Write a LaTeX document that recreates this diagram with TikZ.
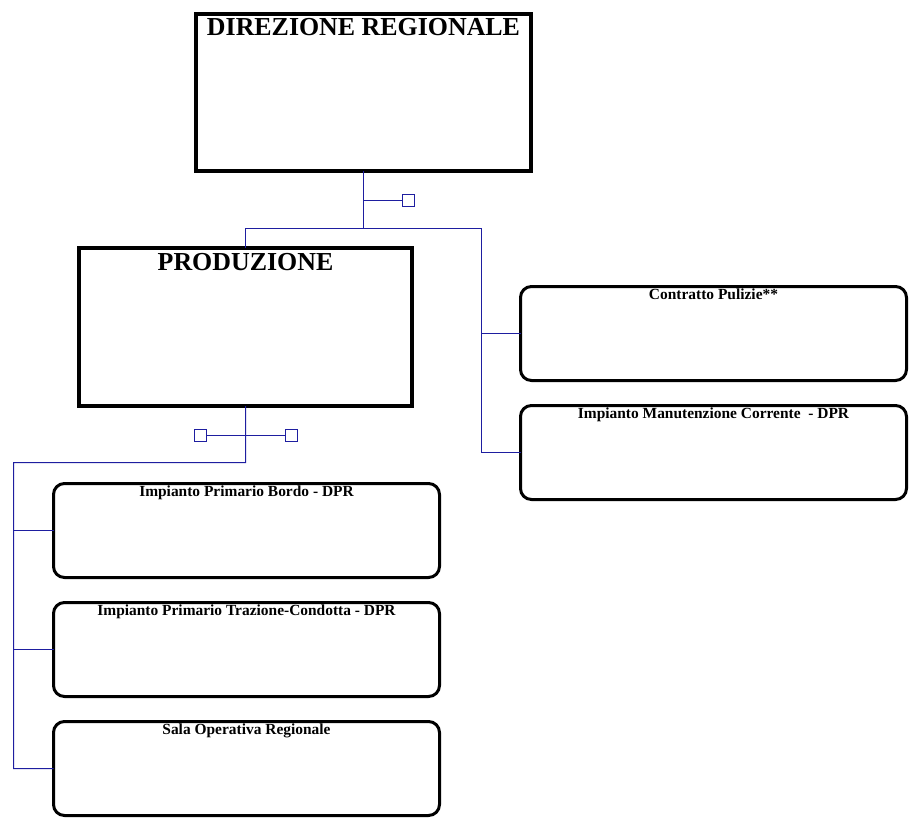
\documentclass[tikz,border=0pt]{standalone}
\usepackage{fontspec}
\setmainfont{Liberation Serif}
\usetikzlibrary{positioning}
\definecolor{navy}{RGB}{30,30,160}

\begin{document}
\begin{tikzpicture}[x=1bp, y=-1bp,
      head/.style={draw, line width=4bp, anchor=north west, inner sep=0pt, outer sep=0pt},
      unit/.style={draw, line width=3bp, rounded corners=11bp, anchor=north west,
                   inner sep=0pt, outer sep=0pt, minimum width=386bp, minimum height=94bp},
      headtext/.style={anchor=north, inner sep=0pt, font=\bfseries\fontsize{26}{26}\selectfont},
      unittext/.style={anchor=north, inner sep=0pt, yshift=-2.5bp, font=\bfseries\fontsize{15.5}{15.5}\selectfont},
      link/.style={draw=navy, line width=1bp},
      knob/.style={draw=navy, line width=1bp, fill=white, minimum size=12bp, inner sep=0pt}]
      \useasboundingbox (0,0) rectangle (912,826);

      \node[head, minimum width=335bp, minimum height=157bp,
            label={[headtext, yshift=-4bp]north:DIREZIONE REGIONALE}] (dir) at (196,14) {};
      \node[head, minimum width=333bp, minimum height=158bp,
            label={[headtext, yshift=-5bp]north:PRODUZIONE}] (prod) at (79,248) {};

      \node[unit, label={[unittext]north:Contratto Pulizie**}] (puliz) at (520.5,286.5) {};
      \node[unit, label={[unittext]north:Impianto Manutenzione Corrente~~- DPR}] (manut) at (520.5,405.5) {};
      \node[unit, label={[unittext]north:Impianto Primario Bordo - DPR}] (bordo) at (53.5,483.5) {};
      \node[unit, label={[unittext]north:Impianto Primario Trazione-Condotta - DPR}] (trazio) at (53.5,602.5) {};
      \node[unit, label={[unittext]north:Sala Operativa Regionale}] (sala) at (53.5,721.5) {};

      \path (dir.south) ++(0,57.5) coordinate (dirhub);
      \coordinate (rail) at (481.5,228.5);
      \draw[link] (dir.south) -- (dirhub);
      \draw[link] (prod.north) |- (rail) |- (manut.west);
      \draw[link] (rail |- puliz.west) -- (puliz.west);
      \node[knob] (dirknob) at (408.5,200.5) {};
      \draw[link] (dir.south |- dirknob) -- (dirknob);

      \path (prod.south) ++(0,56.5) coordinate (prodhub);
      \coordinate (spine) at (13.5,462.5);
      \draw[link] (prod.south) -- (prodhub) -- (spine) |- (sala.west);
      \draw[link] (spine |- bordo.west) -- (bordo.west);
      \draw[link] (spine |- trazio.west) -- (trazio.west);
      \node[knob] (lknob) at (200.5,435.5) {};
      \node[knob] (rknob) at (291.5,435.5) {};
      \draw[link] (lknob) -- (rknob);
\end{tikzpicture}
\end{document}
